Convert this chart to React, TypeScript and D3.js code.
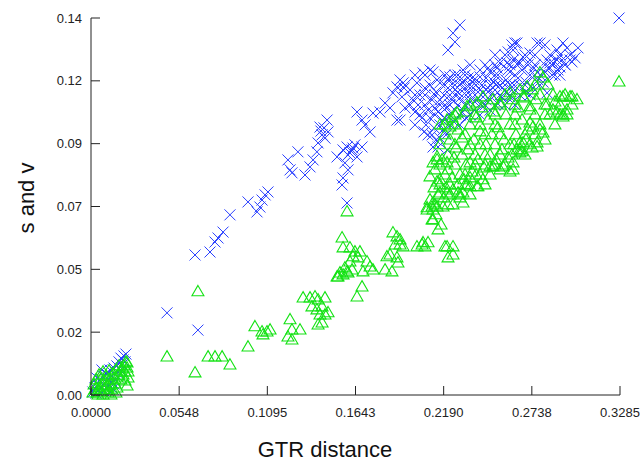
import React from "react";
import * as d3 from "d3";

// GTR distance (x) vs s (blue crosses) and v (green triangles)
const sX = [
  0.0012, 0.0025, 0.0031, 0.0043, 0.005, 0.0056, 0.0062, 0.0075, 0.0081, 0.0087, 0.0093, 0.0099, 0.0106, 0.0112,
  0.0118, 0.0124, 0.013, 0.0137, 0.0143, 0.0149, 0.0155, 0.0161, 0.0168, 0.0174, 0.018, 0.0186, 0.0193, 0.0199,
  0.0205, 0.0211, 0.0217, 0.0143, 0.0068, 0.0037,
  0.0472, 0.0664,
  0.0646, 0.0739, 0.077, 0.0789, 0.082, 0.0863, 0.0975, 0.1031, 0.1049, 0.1081, 0.1099, 0.1062,
  0.1223, 0.1236, 0.1248, 0.1285, 0.1329, 0.136, 0.1379, 0.1403, 0.141, 0.1435, 0.1453, 0.1466, 0.1422, 0.1472,
  0.1428, 0.1447,
  0.1528, 0.1565, 0.159, 0.1608, 0.1627, 0.1652, 0.1683, 0.1577, 0.1596, 0.1565, 0.1559, 0.159, 0.1621, 0.1639,
  0.1596,
  0.1652, 0.1683, 0.1702, 0.1733, 0.1751, 0.1795, 0.1826, 0.1857, 0.1875, 0.19, 0.19, 0.1919, 0.1944, 0.1931,
  0.195, 0.1919, 0.1938,
  0.2291, 0.2248, 0.226, 0.2217, 0.2614, 0.2633, 0.259, 0.277, 0.2819, 0.2931, 0.2956, 0.2894, 0.2975, 0.2925,
  0.2975, 0.2869, 0.2832, 0.29, 0.285, 0.2807, 0.2726, 0.2683, 0.2652, 0.2621, 0.2583, 0.254, 0.2521, 0.2478,
  0.2416, 0.2416, 0.2372, 0.231, 0.2291, 0.2229, 0.2149, 0.2124, 0.3279,
  0.2788, 0.2645, 0.2664, 0.2726, 0.285, 0.2912, 0.2894, 0.2832, 0.2602, 0.2621,
  0.2105, 0.2062, 0.2024, 0.1981, 0.2, 0.2043, 0.2074, 0.2031, 0.2012, 0.2056, 0.2093, 0.2118, 0.2142, 0.2167,
  0.2192, 0.2217, 0.2242, 0.226, 0.2279, 0.2304, 0.2329, 0.2354, 0.2378, 0.2403, 0.2428, 0.2453, 0.2478, 0.2503,
  0.2527, 0.2552, 0.2577, 0.2602, 0.2627, 0.2652, 0.2677, 0.2701, 0.2726, 0.2751, 0.2776,
  0.208, 0.2105, 0.213, 0.2155, 0.218, 0.2205, 0.2229, 0.2254, 0.2279, 0.2304, 0.2329, 0.2354, 0.2378, 0.2403,
  0.2428, 0.2453, 0.2478, 0.2503, 0.2527, 0.2552, 0.2577,
  0.2124, 0.2155, 0.2211, 0.2167, 0.2142, 0.2186, 0.2093, 0.2068,
  0.2167, 0.2198, 0.2229, 0.226, 0.2291, 0.2323, 0.2354, 0.2385, 0.2416, 0.2447, 0.2478, 0.2509, 0.254, 0.2571,
  0.2217, 0.2279, 0.2341, 0.2465, 0.259, 0.2714, 0.2136, 0.2198, 0.226, 0.2323, 0.2391, 0.2453, 0.2515, 0.2614,
  0.2664, 0.2695, 0.2745, 0.2788, 0.2819, 0.2863, 0.2912, 0.2944, 0.3006, 0.3024, 0.2987,
];
const sY = [
  0.0011, 0.0026, 0.0007, 0.0037, 0.0019, 0.0056, 0.003, 0.0071, 0.0015, 0.0045, 0.0026, 0.0078, 0.0059, 0.0037,
  0.0093, 0.0048, 0.0071, 0.0022, 0.01, 0.0056, 0.0085, 0.0108, 0.0067, 0.0123, 0.0093, 0.0137, 0.0111, 0.013,
  0.0145, 0.0123, 0.0152, 0.0041, 0.0093, 0.0063,
  0.0305, 0.0241,
  0.052, 0.0531, 0.0568, 0.0583, 0.0605, 0.0669, 0.0717, 0.068, 0.0698, 0.0743, 0.0754, 0.0724,
  0.0873, 0.0836, 0.0825, 0.0903, 0.0817, 0.0847, 0.0873, 0.0903, 0.0936, 0.0966, 0.0954, 0.1021, 0.0995, 0.0977,
  0.098, 0.0992,
  0.0884, 0.091, 0.0921, 0.0899, 0.0917, 0.0884, 0.0921, 0.0862, 0.0836, 0.0806, 0.078, 0.0713, 0.091, 0.0929,
  0.0891,
  0.1051, 0.1021, 0.1003, 0.0977, 0.1047, 0.1051, 0.1084, 0.1066, 0.1122, 0.1021, 0.1144, 0.117, 0.114, 0.1107,
  0.1066, 0.1021, 0.1159,
  0.1374, 0.1344, 0.1311, 0.1281, 0.13, 0.1307, 0.1274, 0.1307, 0.13, 0.1307, 0.1289, 0.1281, 0.1263, 0.1244,
  0.1244, 0.1233, 0.1244, 0.1207, 0.1214, 0.1162, 0.127, 0.1255, 0.1233, 0.1244, 0.1233, 0.1233, 0.1214, 0.12,
  0.1207, 0.1181, 0.1181, 0.1207, 0.1181, 0.1181, 0.117, 0.12, 0.14,
  0.1307, 0.1307, 0.1233, 0.1244, 0.1233, 0.1218, 0.1244, 0.1122, 0.1107, 0.1281,
  0.1207, 0.1196, 0.1159, 0.1133, 0.1096, 0.1114, 0.114, 0.1077, 0.1051, 0.1029, 0.1058, 0.1096, 0.1125, 0.1159,
  0.1114, 0.114, 0.1096, 0.1151, 0.1125, 0.1162, 0.1114, 0.114, 0.117, 0.1125, 0.1151, 0.1177, 0.1133, 0.1162,
  0.1188, 0.114, 0.117, 0.12, 0.1151, 0.1177, 0.1207, 0.1162, 0.1188, 0.1214, 0.117,
  0.1003, 0.1029, 0.0992, 0.1051, 0.1021, 0.1066, 0.104, 0.1014, 0.1077, 0.1051, 0.1029, 0.1088, 0.1058, 0.1103,
  0.1073, 0.1096, 0.1058, 0.111, 0.1081, 0.1103, 0.1125,
  0.0921, 0.0921, 0.091, 0.0954, 0.0947, 0.0984, 0.0966, 0.0977,
  0.1096, 0.1077, 0.1114, 0.1058, 0.1103, 0.114, 0.1114, 0.1088, 0.1133, 0.1114, 0.1096, 0.1133, 0.1114, 0.1151,
  0.117, 0.1188, 0.1177, 0.1214, 0.1207, 0.1226, 0.1066, 0.1029, 0.1133, 0.1077, 0.1151, 0.1133, 0.1151, 0.1133,
  0.1151, 0.1125, 0.114, 0.1188, 0.12, 0.1188, 0.1188, 0.1226, 0.1252, 0.1289, 0.1237,
];
// the dense core of the s cloud
const sCoreX = [
  0.2509, 0.2571, 0.2695, 0.2757, 0.285, 0.2912,
  0.2354, 0.2447, 0.2509, 0.2602, 0.2757, 0.2819, 0.2944,
  0.2012, 0.2074, 0.2198, 0.226, 0.2323, 0.2509, 0.2633, 0.2757, 0.2881,
  0.195, 0.2105, 0.2198, 0.2291, 0.2354, 0.2478, 0.254, 0.2602, 0.2695, 0.2788,
  0.2012, 0.2074, 0.2136, 0.226, 0.2385, 0.2602, 0.2664, 0.2726,
  0.1981, 0.2074, 0.2167, 0.2229, 0.2323, 0.2447, 0.2509, 0.2571, 0.2633,
  0.2043, 0.2136, 0.2291, 0.2354, 0.2416,
  0.2012, 0.2167, 0.2229, 0.2291,
  0.2118, 0.2205,
];
const sCoreY = [
  0.1263, 0.1263, 0.1263, 0.1263, 0.1263, 0.1263,
  0.1226, 0.1226, 0.1226, 0.1226, 0.1226, 0.1226, 0.1226,
  0.1188, 0.1188, 0.1188, 0.1188, 0.1188, 0.1188, 0.1188, 0.1188, 0.1188,
  0.1151, 0.1151, 0.1151, 0.1151, 0.1151, 0.1151, 0.1151, 0.1151, 0.1151, 0.1151,
  0.1114, 0.1114, 0.1114, 0.1114, 0.1114, 0.1114, 0.1114, 0.1114,
  0.1077, 0.1077, 0.1077, 0.1077, 0.1077, 0.1077, 0.1077, 0.1077, 0.1077,
  0.104, 0.104, 0.104, 0.104, 0.104,
  0.1003, 0.1003, 0.1003, 0.1003,
  0.0966, 0.0966,
];

const vX = [
  0.0012, 0.0025, 0.0037, 0.005, 0.0056, 0.0068, 0.0081, 0.0087, 0.0099, 0.0106, 0.0118, 0.0124, 0.013, 0.0143,
  0.0149, 0.0161, 0.0168, 0.018, 0.0186, 0.0193, 0.0199, 0.0205, 0.0211, 0.0217, 0.0224, 0.023, 0.0031, 0.005,
  0.0062, 0.0075, 0.0093, 0.0112, 0.0137, 0.0155, 0.0174, 0.0019, 0.0043, 0.0075, 0.0124, 0.0155, 0.0224, 0.023,
  0.0211, 0.0224,
  0.0472, 0.0646, 0.0727, 0.077, 0.0814, 0.0863, 0.0664, 0.0975,
  0.1018, 0.1062, 0.1093, 0.1112, 0.1068, 0.1236, 0.1248, 0.1223, 0.1248, 0.1298, 0.1317, 0.136, 0.1391, 0.141,
  0.1453, 0.1372, 0.1403, 0.1435, 0.1422, 0.1453, 0.1472, 0.141, 0.1435,
  0.1534, 0.1565, 0.1596, 0.1559, 0.1565, 0.1608, 0.1639, 0.167, 0.1658, 0.1608, 0.1577, 0.159, 0.1621, 0.1528,
  0.1689, 0.1751, 0.1714, 0.1733, 0.1683, 0.1652, 0.1826, 0.1869, 0.1838, 0.1857, 0.19, 0.1906, 0.19, 0.1919,
  0.1938, 0.2024, 0.2056, 0.2093, 0.2074, 0.2198, 0.2217, 0.2118, 0.2155, 0.2087, 0.2149, 0.2186, 0.159, 0.1627,
  0.1546, 0.1875, 0.1888,
  0.2807, 0.2788, 0.2739, 0.2912, 0.2975, 0.2931, 0.2956, 0.2832, 0.285, 0.2788, 0.2807, 0.277, 0.2664, 0.2677,
  0.2621, 0.2621, 0.254, 0.2559, 0.2478, 0.2434, 0.2403, 0.2354, 0.231, 0.2279, 0.2248, 0.2211, 0.2167, 0.2124,
  0.2087, 0.2124, 0.2211, 0.2229, 0.2149, 0.2124, 0.2105, 0.2434, 0.2496, 0.254, 0.2602, 0.2664, 0.2708,
  0.2931, 0.2987, 0.2881, 0.2869, 0.2912, 0.2956, 0.2745, 0.2683, 0.2726, 0.3018, 0.2931, 0.2894, 0.2819, 0.277,
  0.2683, 0.2664, 0.2726, 0.3279,
  0.1919, 0.2062, 0.2211, 0.2248, 0.2248, 0.2124, 0.2118, 0.2248, 0.231, 0.2291, 0.2149, 0.2136, 0.2149, 0.2211,
  0.2354, 0.2397, 0.2335, 0.2602, 0.2496, 0.2645, 0.2273, 0.2335, 0.2397,
  0.2198, 0.2242, 0.2279, 0.2323, 0.2354, 0.2391, 0.2428, 0.2465, 0.2503, 0.254, 0.2577, 0.2614, 0.2652, 0.2689,
  0.2726, 0.2763, 0.2229, 0.2267, 0.2304, 0.2341, 0.2378, 0.2416, 0.2453, 0.249, 0.2527, 0.2565, 0.2602, 0.2639,
  0.2677, 0.2714, 0.218, 0.2217, 0.2254, 0.2291, 0.2329, 0.2366, 0.2403, 0.244, 0.2478, 0.2515, 0.2552, 0.259,
  0.2627, 0.2664, 0.2701, 0.2739, 0.2167, 0.2205, 0.2242, 0.2279, 0.2316, 0.2354, 0.2391, 0.2155, 0.2192, 0.213,
  0.2105, 0.2142, 0.2174,
];
const vY = [
  0.0007, 0.0019, 0.0007, 0.0026, 0.0011, 0.0037, 0.0019, 0.0048, 0.003, 0.0007, 0.0056, 0.0037, 0.0019, 0.0063,
  0.0041, 0.0026, 0.0071, 0.0085, 0.0056, 0.01, 0.0074, 0.0108, 0.0085, 0.0123, 0.01, 0.0063, 0.0056, 0.0074,
  0.0059, 0.0085, 0.0071, 0.0089, 0.0078, 0.0093, 0.0108, 0.0037, 0.0, 0.0, 0.0, 0.0007, 0.0119, 0.0085,
  0.0052, 0.0033,
  0.0141, 0.0082, 0.0141, 0.0141, 0.0141, 0.0111, 0.0383, 0.0178,
  0.0253, 0.0234, 0.0234, 0.0241, 0.0223, 0.0279, 0.0241, 0.0215, 0.0204, 0.0241, 0.036, 0.036, 0.0364, 0.0353,
  0.036, 0.0327, 0.0316, 0.0327, 0.0297, 0.0297, 0.0305, 0.026, 0.0267,
  0.0438, 0.0446, 0.0453, 0.0583, 0.0546, 0.0546, 0.0531, 0.0531, 0.0509, 0.0494, 0.0472, 0.0457, 0.0464, 0.0438,
  0.0457, 0.0464, 0.0494, 0.0475, 0.0401, 0.0364, 0.0464, 0.0457, 0.0513, 0.052, 0.0509, 0.049, 0.0587, 0.0557,
  0.055, 0.055, 0.0557, 0.0565, 0.055, 0.055, 0.0509, 0.065, 0.0613, 0.0695, 0.0698, 0.0698, 0.068, 0.0513,
  0.0453, 0.0602, 0.0557,
  0.1177, 0.1196, 0.1133, 0.1107, 0.1107, 0.104, 0.1058, 0.1077, 0.104, 0.0984, 0.0973, 0.0936, 0.0936, 0.0903,
  0.0862, 0.0836, 0.0836, 0.0847, 0.0847, 0.0799, 0.0773, 0.0773, 0.075, 0.075, 0.0761, 0.075, 0.075, 0.0713,
  0.0687, 0.0687, 0.1021, 0.0995, 0.0884, 0.0862, 0.081, 0.1107, 0.1096, 0.1084, 0.1122, 0.1133, 0.1144,
  0.1107, 0.1107, 0.1088, 0.1058, 0.104, 0.104, 0.0995, 0.1107, 0.107, 0.1096, 0.1032, 0.1047, 0.0947, 0.0921,
  0.0936, 0.0899, 0.101, 0.1162,
  0.0576, 0.0565, 0.055, 0.055, 0.052, 0.065, 0.0698, 0.0706, 0.0713, 0.0732, 0.0791, 0.0836, 0.0873, 0.0862,
  0.0862, 0.0773, 0.078, 0.0828, 0.0847, 0.091, 0.1047, 0.107, 0.1084,
  0.1003, 0.1029, 0.0984, 0.1051, 0.1003, 0.1029, 0.1066, 0.1021, 0.1051, 0.1077, 0.104, 0.1096, 0.1066, 0.1103,
  0.1058, 0.1096, 0.0947, 0.0917, 0.0954, 0.091, 0.0947, 0.0977, 0.0929, 0.0966, 0.0992, 0.0947, 0.1003, 0.0966,
  0.1021, 0.0984, 0.0873, 0.0836, 0.088, 0.0817, 0.0854, 0.0828, 0.0873, 0.0843, 0.0891, 0.0873, 0.091, 0.088,
  0.0929, 0.091, 0.0947, 0.0917, 0.0799, 0.0769, 0.0806, 0.078, 0.0799, 0.0806, 0.0817, 0.0743, 0.0732, 0.0769,
  0.0724, 0.0669, 0.0631,
];
// the dense core of the v cloud
const vCoreX = [
  0.2757, 0.2838,
  0.2571, 0.2788, 0.2869, 0.2944,
  0.2354, 0.2478, 0.2633, 0.2819, 0.2912, 0.2987,
  0.226, 0.2385, 0.2509, 0.2633, 0.2757, 0.2819,
  0.2167, 0.226, 0.2416, 0.2509, 0.2633, 0.2788, 0.2881,
  0.2198, 0.2323, 0.2447, 0.254, 0.2695, 0.2757,
  0.2167, 0.226, 0.2354, 0.2416, 0.2509, 0.2602, 0.2726,
  0.2217, 0.2304, 0.2385, 0.2447, 0.254, 0.2614, 0.2695,
  0.2167, 0.226, 0.2385, 0.2447, 0.2509, 0.2571,
  0.2198, 0.2323, 0.2416, 0.2478,
  0.2167, 0.2229, 0.2323, 0.2447,
  0.2229, 0.2291, 0.2354,
  0.2136, 0.2217,
];
const vCoreY = [
  0.1151, 0.1151,
  0.1114, 0.1114, 0.1114, 0.1114,
  0.1077, 0.1077, 0.1077, 0.1077, 0.1077, 0.1077,
  0.104, 0.104, 0.104, 0.104, 0.104, 0.104,
  0.1003, 0.1003, 0.1003, 0.1003, 0.1003, 0.1003, 0.1003,
  0.0966, 0.0966, 0.0966, 0.0966, 0.0966, 0.0966,
  0.0929, 0.0929, 0.0929, 0.0929, 0.0929, 0.0929, 0.0929,
  0.0891, 0.0891, 0.0891, 0.0891, 0.0891, 0.0891, 0.0891,
  0.0854, 0.0854, 0.0854, 0.0854, 0.0854, 0.0854,
  0.0817, 0.0817, 0.0817, 0.0817,
  0.078, 0.078, 0.078, 0.078,
  0.0743, 0.0743, 0.0743,
  0.0706, 0.0706,
];

const xTickLabels = ["0.0000", "0.0548", "0.1095", "0.1643", "0.2190", "0.2738", "0.3285"];
const yTickLabels = ["0.00", "0.02", "0.05", "0.07", "0.09", "0.12", "0.14"];
const xTitle = "GTR distance";
const yTitle = "s and v";

const App = () => {
  const width = 641;
  const height = 462;
  const left = 91;
  const right = 620;
  const top = 18;
  const bottom = 395;
  const font = "'Liberation Sans', Arial, sans-serif";

  const x = d3.scaleLinear().domain([0, 0.3285]).range([left, right]);
  const y = d3.scaleLinear().domain([0, 0.14]).range([bottom, top]);
  const xTicks = d3.range(xTickLabels.length).map((i) => (i * 0.3285) / (xTickLabels.length - 1));
  const yTicks = d3.range(yTickLabels.length).map((i) => (i * 0.14) / (yTickLabels.length - 1));

  const sPoints = sX.concat(sCoreX).map((v, i) => [v, sY.concat(sCoreY)[i]]);
  const vPoints = vX.concat(vCoreX).map((v, i) => [v, vY.concat(vCoreY)[i]]);

  const cross = "M-5.5,-5.5L5.5,5.5M-5.5,5.5L5.5,-5.5";
  const triangle = d3.symbol().type(d3.symbolTriangle).size(62)();

  return (
    <div style={{ position: "absolute", left: 0, top: 0 }}>
      <svg width={width} height={height} style={{ display: "block", background: "#fff" }}>
        <g>
          {sPoints.map((p, i) => (
            <path
              key={i}
              d={cross}
              transform={`translate(${x(p[0])},${y(p[1])})`}
              stroke="#2a40ff"
              strokeWidth={1}
              fill="none"
            />
          ))}
        </g>
        <g>
          {vPoints.map((p, i) => (
            <path
              key={i}
              d={triangle}
              transform={`translate(${x(p[0])},${y(p[1]) + 0.5})`}
              stroke="#14e214"
              strokeWidth={1.1}
              fill="none"
            />
          ))}
        </g>
        <g stroke="#222" strokeWidth={1} fill="none">
          <line x1={left} x2={left} y1={top} y2={bottom} />
          <line x1={left} x2={right} y1={bottom} y2={bottom} />
          {yTicks.map((t, i) => (
            <line key={i} x1={left} x2={left + 9} y1={y(t)} y2={y(t)} />
          ))}
          {xTicks.map((t, i) => (
            <line key={i} x1={x(t)} x2={x(t)} y1={bottom} y2={bottom - 9} />
          ))}
        </g>
        <g fontFamily={font} fontSize={13} fill="#222">
          {yTicks.map((t, i) => (
            <text key={i} x={left - 9} y={y(t)} dy="0.35em" textAnchor="end">
              {yTickLabels[i]}
            </text>
          ))}
          {xTicks.map((t, i) => (
            <text key={i} x={x(t)} y={bottom + 22} textAnchor="middle">
              {xTickLabels[i]}
            </text>
          ))}
        </g>
        <text x={325} y={457} fontFamily={font} fontSize={22} textAnchor="middle" fill="#111">
          {xTitle}
        </text>
        <text
          transform="translate(34,198) rotate(-90)"
          fontFamily={font}
          fontSize={22}
          textAnchor="middle"
          fill="#111"
        >
          {yTitle}
        </text>
      </svg>
    </div>
  );
};

export default App;
